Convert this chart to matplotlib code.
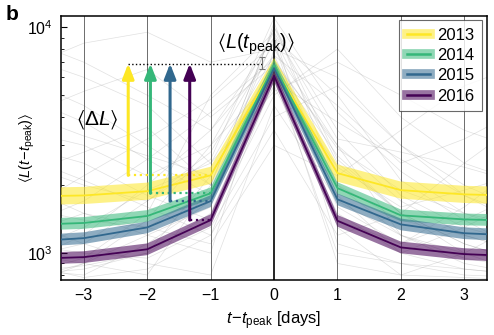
import numpy as np
import matplotlib
matplotlib.use("Agg")
import matplotlib.pyplot as plt
from matplotlib.lines import Line2D

plt.rcParams['font.family'] = ['Liberation Sans', 'DejaVu Sans']
plt.rcParams['mathtext.fontset'] = 'custom'
plt.rcParams['mathtext.rm'] = 'Liberation Sans'
plt.rcParams['mathtext.it'] = 'Liberation Sans:italic'
plt.rcParams['mathtext.bf'] = 'Liberation Sans:bold'
plt.rcParams['mathtext.fallback'] = 'stixsans'

# days relative to the peak
days = [-4, -3, -2, -1, 0, 1, 2, 3, 4]

years = ['2013', '2014', '2015', '2016']
colors = ['#fde725', '#35b779', '#31688e', '#440154']

# mean attention around the peak, one list per year
L2013 = [1780, 1800, 1880, 2210, 6700, 2260, 1900, 1820, 1790]
L2014 = [1330, 1360, 1460, 1840, 6800, 1940, 1470, 1410, 1390]
L2015 = [1120, 1165, 1300, 1700, 6600, 1730, 1340, 1225, 1190]
L2016 = [ 940,  960, 1040, 1400, 6100, 1390, 1060,  990,  965]
means = [L2013, L2014, L2015, L2016]

# band half width (dex)
spread = [0.038, 0.026, 0.026, 0.026]

# peak level and its uncertainty
Lpeak = 6900
Lpeak_lo, Lpeak_hi = 6500, 7400

# arrow positions (days)
arrow_x = [-2.3, -1.95, -1.64, -1.33]

# a handful of individual trajectories drawn behind
traj = [
    [ 900, 1200, 2000, 3500, 9000, 2500, 1500, 1100,  900],
    [3000, 2500, 1800, 1400, 5000, 8000, 4000, 2500, 2000],
    [ 800,  850, 1000, 2200, 7000, 3000, 1200,  900,  800],
    [6000, 4500, 3000, 2000, 10000, 3500, 1800, 1300, 1100],
    [1500, 2200, 3200, 4800, 8500, 1800, 1000,  850,  800],
    [ 700,  900, 1400, 3000, 6000, 1400, 1100, 1600, 2600],
    [9000, 7000, 5000, 3500, 7500, 2000, 1400, 1200, 1000],
    [1100, 1000,  950, 1300, 4000, 5500, 3000, 1800, 1300],
    [2500, 2000, 1700, 2600, 11000, 4200, 2300, 1500, 1200],
    [ 800,  950, 1500, 5000, 9500, 1100,  900,  850,  800],
    [4000, 5200, 6500, 4000, 6800, 2700, 1500, 1000,  800],
    [1200, 1500, 1300, 1100, 3000, 2200, 3500, 5500, 7000],
    [ 850,  800, 1100, 1700, 5500, 1500, 1000, 1300, 1800],
    [2000, 1500, 1200, 1000, 8000, 6000, 3000, 2000, 1500],
    [5000, 3800, 2600, 1800, 6000, 1000,  900,  800,  780],
    [1000, 1300, 1900, 2500, 7500, 4500, 2500, 3200, 4500],
    [ 750,  900, 1200, 1600, 10500, 2000, 1200, 1000,  900],
    [3500, 3000, 2200, 3000, 9500, 3200, 2800, 2400, 2000],
    [1400, 1100,  900,  800, 4500, 1700, 1200,  950,  850],
    [7500, 6000, 4500, 2500, 5200, 7000, 5000, 3500, 2800],
    [ 950, 1100, 1700, 2800, 8500, 1300,  800,  780,  760],
    [2200, 2800, 3600, 2000, 6200, 2400, 1600, 1900, 2300],
    [1600, 1400, 1300, 1900, 9000, 5000, 2100, 1400, 1000],
    [ 900,  780,  850, 1200, 3500, 1200, 1500, 2500, 4000],
    [6500, 8500, 9500, 7000, 8000, 3000, 1700, 1200, 1000],
    [1300, 1700, 2600, 4200, 7200, 2900, 1900, 1500, 1300],
    [ 820,  880, 1000, 1500, 6500, 900,   800, 1000, 1400],
    [2700, 2100, 1600, 1200, 5800, 3800, 2600, 1800, 1400],
    [1000,  900,  800, 2000, 10000, 2600, 1500, 1100, 900],
    [4200, 3300, 2700, 2200, 7000, 1600, 1100, 1400, 1900],
]

fig = plt.figure(figsize=(4.94, 3.35), dpi=100)
ax = fig.add_axes([0.1235, 0.164, 0.8625, 0.788])
ax.set_yscale('log')

for tr in traj:
    ax.plot(days, tr, color='#9a9a9a', lw=0.5, alpha=0.3, zorder=1)

for d in [-3, -2, -1, 1, 2, 3]:
    ax.axvline(d, color='#555555', lw=0.6, zorder=2)
ax.axvline(0, color='black', lw=1.2, zorder=2)

handles = []
for y, c, m, s in zip(years, colors, means, spread):
    m = np.array(m, dtype=float)
    ax.fill_between(days, m * 10**(-s), m * 10**s, color=c, alpha=0.55,
                    lw=0, zorder=3)
    ax.plot(days, m, color=c, lw=1.3, zorder=4)
    handles.append((Line2D([], [], color=c, lw=7, alpha=0.55),
                    Line2D([], [], color=c, lw=1.8)))

# delta-L arrows from the value one day before the peak
for x, c, m in zip(arrow_x, colors, means):
    base = m[days.index(-1)]
    ax.plot([x, -1], [base, base], ls=':', color=c, lw=1.6, zorder=5)
    ax.annotate('', xy=(x, Lpeak), xytext=(x, base),
                arrowprops=dict(arrowstyle='-|>,head_width=0.35,head_length=0.9',
                                color=c, lw=2.2, shrinkA=0, shrinkB=0),
                zorder=6)

ax.plot([arrow_x[0], -0.19], [Lpeak, Lpeak], ls=':', color='black', lw=1.0,
        zorder=5)
ax.errorbar([-0.19], [Lpeak], yerr=[[Lpeak - Lpeak_lo], [Lpeak_hi - Lpeak]],
            color='#777777', lw=0.8, capsize=2.5, capthick=0.8, zorder=6)

ax.text(-3.12, 3900, r'$\langle\Delta L\rangle$', fontsize=15,
        va='center', ha='left', zorder=7)
ax.text(-0.28, 8400, r'$\langle L(t_{\rm peak})\rangle$', fontsize=14.5,
        va='center', ha='center', zorder=7)

ax.set_xlim(-3.36, 3.36)
ax.set_ylim(760, 11200)
ax.set_xticks([-3, -2, -1, 0, 1, 2, 3])
ax.tick_params(axis='both', which='both', direction='in', labelsize=11.5,
               length=0, pad=6)
ax.tick_params(axis='y', which='major', length=4)
ax.tick_params(axis='y', which='minor', length=2)
for sp in ax.spines.values():
    sp.set_linewidth(1.1)

ax.set_xlabel(r'$t\!-\!t_{\rm peak}$ [days]', fontsize=12, labelpad=4)
ax.set_ylabel(r'$\langle L(t\!-\!t_{\rm peak})\rangle$', fontsize=10.5)
ax.yaxis.set_label_coords(-0.056, 0.5)

leg = ax.legend(handles, years, loc='upper right', fontsize=12,
                frameon=True, fancybox=False, handlelength=1.4,
                borderpad=0.45, labelspacing=0.32, handletextpad=0.45,
                borderaxespad=0, bbox_to_anchor=(0.988, 0.985))
leg.get_frame().set_edgecolor('#444444')
leg.get_frame().set_linewidth(0.8)
leg.set_zorder(10)

fig.text(0.012, 0.985, 'b', fontsize=15, fontweight='bold', va='top',
         ha='left')

fig.savefig('out.png', dpi=100)
